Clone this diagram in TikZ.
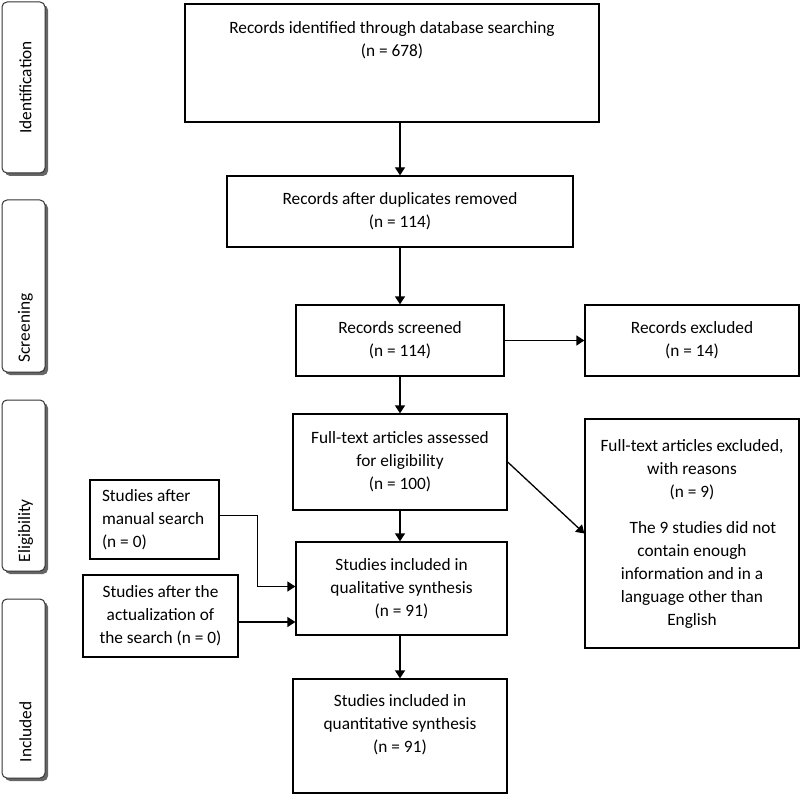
\documentclass[tikz,border=0pt]{standalone}
\usepackage{fontspec}
\setmainfont{Carlito}
\usetikzlibrary{arrows.meta,positioning}
\tikzset{
	box/.style={draw, line width=1.3pt, align=center, inner sep=0pt},
	phase/.style={draw=black!80, line width=1pt, rounded corners=5pt, fill=white},
	phaseshadow/.style={fill=black!60, rounded corners=5pt},
	phasetxt/.style={rotate=90, inner sep=0pt},
	arr/.style={line width=1.3pt, -{Triangle[length=8pt,width=10pt]}},
}
\begin{document}
\begin{tikzpicture}[x=1pt, y=-1pt, every node/.style={font=\fontsize{17.3}{23}\selectfont}]
	\useasboundingbox (0,0) rectangle (800,794);
	% phases
	\foreach \top/\bot in {2/173, 200/372, 400/571, 599/778}
		\fill [phaseshadow] (5,\top+3) rectangle (48,\bot+3);
	\node [phase, minimum width=43pt, minimum height=171pt] (ident) at (23.5,87.5) {};
	\node [phase, minimum width=43pt, minimum height=172pt] (screen) at (23.5,286) {};
	\node [phase, minimum width=43pt, minimum height=171pt] (elig) at (23.5,485.5) {};
	\node [phase, minimum width=43pt, minimum height=179pt] (incl) at (23.5,688.5) {};
	\node [phasetxt] (identtxt) at ([xshift=2pt]ident.center) {Identification};
	\node [phasetxt, anchor=west] (screentxt) at ([xshift=2pt,yshift=10pt]screen.south) {Screening};
	\node [phasetxt, anchor=west] (eligtxt) at ([xshift=2pt,yshift=9pt]elig.south) {Eligibility};
	\node [phasetxt, anchor=west] (incltxt) at ([xshift=2pt,yshift=16pt]incl.south) {Included};
	% boxes
	\node [box, minimum width=414pt, minimum height=118pt] (rec) at (392,63) {};
	\node [align=center] (rectxt) at ([yshift=-37pt]rec.north) {Records identified through database searching\\(n = 678)};
	\node [box, minimum width=346pt, minimum height=71pt] (dup) at (400,211.5) {Records after duplicates removed\\(n = 114)};
	\node [box, minimum width=208pt, minimum height=71pt] (scr) at (400,340.5) {Records screened\\(n = 114)};
	\node [box, minimum width=214pt, minimum height=71pt] (excl) at (692,340.5) {Records excluded\\(n = 14)};
	\node [box, minimum width=214pt, minimum height=96pt] (full) at (400,462) {Full-text articles assessed\\for eligibility\\(n = 100)};
	\node [box, minimum width=214pt, minimum height=229pt] (fullexcl) at (692,533.5) {Full-text articles excluded,\\with reasons\\(n = 9)\\[13pt]\hspace*{22pt}The 9 studies did not\\contain enough\\information and in a\\language other than\\English};
	\node [box, align=flush left, text width=105pt, inner xsep=12pt, minimum height=79pt] (manual) at (154.5,519.5) {Studies after\\manual search\\(n = 0)};
	\node [box, minimum width=155pt, minimum height=82pt] (actual) at (160.5,616) {Studies after the\\actualization of\\the search (n = 0)};
	\node [box, minimum width=211pt, minimum height=93pt] (qual) at (401.5,588.5) {Studies included in\\qualitative synthesis\\(n = 91)};
	\node [box, minimum width=214pt, minimum height=114pt] (quant) at (400,736) {};
	\node [align=center] (quanttxt) at ([yshift=-46.5pt]quant.north) {Studies included in\\quantitative synthesis\\(n = 91)};
	% arrows
	\draw [arr] (dup.north |- rec.south) -- (dup.north);
	\draw [arr] (dup.south) -- (scr.north);
	\draw [arr] (scr.east) -- (excl.west);
	\draw [arr] (scr.south) -- (full.north);
	\draw [arr] (full.south) -- (full.south |- qual.north);
	\draw [arr] (full.east) -- (excl.west |- fullexcl.west);
	\draw [arr] ([yshift=4pt]manual.east) -- ++(38,0) |- ([yshift=2pt]qual.west);
	\draw [arr] ([yshift=-6pt]actual.east) -- ([yshift=-6pt]actual.east -| qual.west);
	\draw [arr] (qual.south -| quant.north) -- (quant.north);
\end{tikzpicture}
\end{document}
